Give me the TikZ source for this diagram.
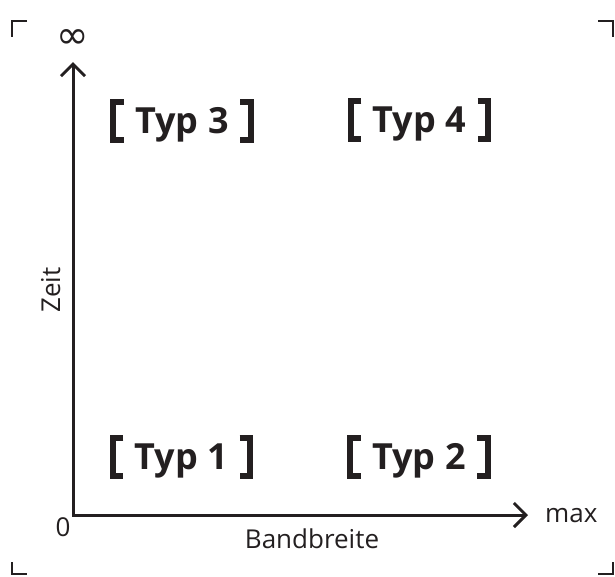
\documentclass[tikz,border=0pt]{standalone}
\usepackage{fontspec}
\setmainfont{Open Sans}
\newfontfamily\symfont{DejaVu Sans}
\usetikzlibrary{arrows.meta}
\definecolor{ink}{HTML}{231F20}
\newcommand\typbox[3]{%
  \node[typ] (#1) at (#2) {#3};
  \draw[bracket] ([xshift=10.5pt]#1.north west) -| (#1.south west) -- ++(10.5pt,0);
  \draw[bracket] ([xshift=-10.5pt]#1.north east) -| (#1.south east) -- ++(-10.5pt,0);
}
\begin{document}
\begin{tikzpicture}[x=1pt,y=-1pt,
  every node/.style={text=ink},
  typ/.style={font=\bfseries\fontsize{36}{36}\selectfont, text height=25.7pt, text depth=0pt,
    minimum width=137pt, minimum height=38pt, inner sep=0pt},
  bracket/.style={draw=ink, line width=6pt, miter limit=10},
  axis/.style={draw=ink, line width=3pt, arrows={Straight Barb[length=12pt,width=24pt]-Straight Barb[length=12pt,width=24pt]}},
  corner/.style={draw=ink, line width=2.2pt},
  lbl/.style={font=\fontsize{26}{26}\selectfont, inner sep=0pt}]
\useasboundingbox (0,0) rectangle (615,576);
% crop corners
\draw[corner] (27,21) -- (12,21) -- (12,37);
\draw[corner] (598,21) -- (613,21) -- (613,37);
\draw[corner] (12,562) -- (12,574) -- (27,574);
\draw[corner] (613,562) -- (613,574) -- (598,574);
% axes
\coordinate (O) at (73,515);
\coordinate (ytip) at (73,62);
\coordinate (xtip) at (528,515);
\draw[axis] (ytip) -- (O) -- (xtip);
\node[font=\symfont\fontsize{39}{39}\selectfont, inner sep=0pt] (inf) at (73,39) {∞};
\node[lbl, anchor=base west] (max) at (545,522) {max};
\node[lbl, anchor=base] (zero) at (63,536) {0};
\node[lbl, anchor=base] (band) at (312,548) {Bandbreite};
\node[lbl, anchor=base, rotate=90] (zeit) at (60,290) {Zeit};
% types
\typbox{t3}{182,121}{Typ 3}
\typbox{t4}{419.5,120}{Typ 4}
\typbox{t1}{181.5,457}{Typ 1}
\typbox{t2}{419,457}{Typ 2}
\end{tikzpicture}
\end{document}
